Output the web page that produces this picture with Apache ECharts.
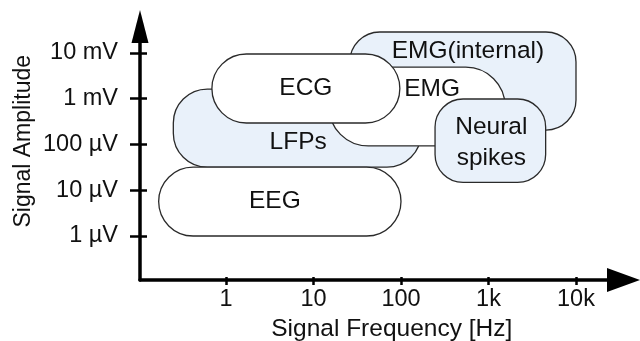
<!DOCTYPE html>
<html>
<head>
<meta charset="utf-8">
<script src="https://cdn.jsdelivr.net/npm/echarts@6/dist/echarts.min.js"></script>
<style>html,body{margin:0;padding:0;background:#fff}#c{width:640px;height:341px}</style>
</head>
<body>
<div id="c"></div>
<script>
// ---- data (frequency in Hz, amplitude in µV) ----
const names    = ['EMG(internal)', 'LFPs', 'EMG', 'ECG', 'EEG', 'Neural spikes'];
const freqLow  = [26,    0.25, 15,   0.69, 0.17, 245];
const freqHigh = [10000, 169,  1550, 97,   100,  4500];
const ampLow   = [207,   32,   93,   295,  1,    14.8];
const ampHigh  = [28800, 1630, 4900, 9500, 32,   988];

const xTickValues = [1, 10, 100, 1000, 10000];
const xTickLabels = ['1', '10', '100', '1k', '10k'];
const yTickValues = [1, 10, 100, 1000, 10000];
const yTickLabels = ['1 µV', '10 µV', '100 µV', '1 mV', '10 mV'];

// ---- styles ----
const FONT = 'Liberation Sans, Arial, sans-serif';
const BLUE = '#e9f1fa';
const LABEL_SIZE = 24.5;
const TICK_SIZE = 23.5;
const styles = {
  'EMG(internal)': { fill: BLUE,   r: 30, dx: 5,  dy: -30 },
  'LFPs':          { fill: BLUE,   r: 34, dx: 1,  dy: 14 },
  'EMG':           { fill: '#fff', r: null, dx: 15, dy: -17 },
  'ECG':           { fill: '#fff', r: null, dx: 0,  dy: 0 },
  'EEG':           { fill: '#fff', r: null, dx: -5, dy: 0 },
  'Neural spikes': { fill: BLUE,   r: 28, dx: 1,  dy: 2, text: 'Neural\nspikes' }
};

const L = Math.log10;
const data = names.map((n, i) => [L(freqLow[i]), L(freqHigh[i]), L(ampLow[i]), L(ampHigh[i])]);

const chart = echarts.init(document.getElementById('c'), null, { renderer: 'canvas' });

function xLabel(v) { const i = xTickValues.findIndex(t => Math.abs(L(t) - v) < 1e-6); return i >= 0 ? xTickLabels[i] : ''; }
function yLabel(v) { const i = yTickValues.findIndex(t => Math.abs(L(t) - v) < 1e-6); return i >= 0 ? yTickLabels[i] : ''; }

const xTicks = xTickValues.map(L);
const yTicks = yTickValues.map(L);
const axisLineStyle = { color: '#000', width: 3.5 };

const option = {
  backgroundColor: '#fff',
  animation: false,
  grid: { left: 140, right: 16.5, top: 26.5, bottom: 61, containLabel: false, outerBoundsMode: 'none' },
  xAxis: [{
    type: 'value', min: -0.9829, max: 4.5429,
    name: 'Signal Frequency [Hz]', nameLocation: 'middle', nameGap: 37, nameMoveOverlap: false,
    nameTextStyle: { fontFamily: FONT, fontSize: 24.5, color: '#111', padding: [0, 0, 0, 20] },
    axisLine: { show: true, onZero: false, lineStyle: axisLineStyle, symbol: ['none', 'triangle'], symbolSize: [24, 33] },
    axisTick: { show: true, inside: false, length: 5, lineStyle: { color: '#000', width: 2.5 }, customValues: xTicks },
    axisLabel: { show: true, margin: 8, fontFamily: FONT, fontSize: TICK_SIZE, color: '#111', customValues: xTicks, formatter: xLabel },
    splitLine: { show: false }
  }, {
    type: 'value', min: -0.9829, max: 4.5429, position: 'bottom',
    axisLine: { show: false, onZero: false },
    axisTick: { show: true, inside: true, length: 3, lineStyle: { color: '#000', width: 2.5 }, customValues: xTicks },
    axisLabel: { show: false }, splitLine: { show: false }
  }],
  yAxis: [{
    type: 'value', min: -0.9617, max: 4.5792,
    name: 'Signal Amplitude', nameLocation: 'middle', nameGap: 105, nameMoveOverlap: false,
    nameTextStyle: { fontFamily: FONT, fontSize: 23, color: '#111', padding: [0, 0, 0, 24] },
    axisLine: { show: true, onZero: false, lineStyle: axisLineStyle, symbol: ['none', 'triangle'], symbolSize: [17, 33] },
    axisTick: { show: true, inside: false, length: 10, lineStyle: { color: '#000', width: 2.5 }, customValues: yTicks },
    axisLabel: { show: true, margin: 22, fontFamily: FONT, fontSize: TICK_SIZE, color: '#111', customValues: yTicks, formatter: yLabel },
    splitLine: { show: false }
  }, {
    type: 'value', min: -0.9617, max: 4.5792, position: 'left',
    axisLine: { show: false, onZero: false },
    axisTick: { show: true, inside: true, length: 7, lineStyle: { color: '#000', width: 2.5 }, customValues: yTicks },
    axisLabel: { show: false }, splitLine: { show: false }
  }],
  series: [{
    type: 'custom',
    xAxisIndex: 0, yAxisIndex: 0,
    clip: false,
    data: data,
    renderItem: function (params, api) {
      const name = names[params.dataIndex];
      const st = styles[name];
      const p0 = api.coord([api.value(0), api.value(3)]);
      const p1 = api.coord([api.value(1), api.value(2)]);
      const w = p1[0] - p0[0], h = p1[1] - p0[1];
      const r = st.r == null ? h / 2 : st.r;
      const z = params.dataIndex * 2;
      return {
        type: 'group',
        children: [{
          type: 'rect', z2: z,
          shape: { x: p0[0], y: p0[1], width: w, height: h, r: r },
          style: { fill: st.fill, stroke: '#2a2a2a', lineWidth: 1.3 }
        }, {
          type: 'text', z2: z + 1,
          x: p0[0] + w / 2 + st.dx, y: p0[1] + h / 2 + st.dy,
          style: {
            text: st.text || name, fontFamily: FONT, fontSize: LABEL_SIZE, fill: '#111',
            align: 'center', verticalAlign: 'middle', lineHeight: 31
          }
        }]
      };
    }
  }]
};
chart.setOption(option);
</script>
</body>
</html>
